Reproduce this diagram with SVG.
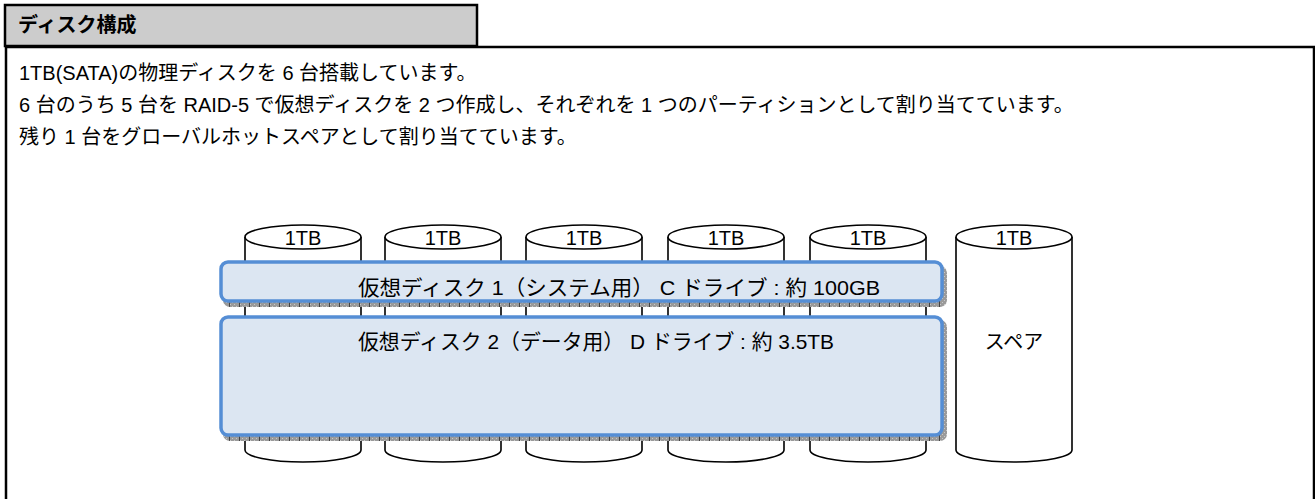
<svg xmlns="http://www.w3.org/2000/svg" width="1315" height="499" viewBox="0 0 1315 499">
<style>
text{font-family:"Liberation Sans","Noto Sans CJK JP",sans-serif;font-size:20px;fill:#000}
.cyl{fill:#fff;stroke:#000;stroke-width:1.6}
.vd{fill:#dce6f2;stroke:#558ed5;stroke-width:3.5}
.sh{fill:url(#hatch)}
.c{text-anchor:middle}
.bx{font-size:21px}
</style>
<defs>
<pattern id="hatch" x="0" y="0" width="10" height="4" patternUnits="userSpaceOnUse">
<rect width="10" height="4" fill="#9a9a9a"/>
<rect x="0" y="0" width="1" height="1" fill="#c8c8c8"/>
<rect x="2" y="2" width="1" height="1" fill="#c8c8c8"/>
<rect x="4" y="0" width="1" height="1" fill="#c8c8c8"/>
<rect x="6" y="2" width="1" height="1" fill="#c8c8c8"/>
<rect x="9" y="0" width="1" height="4" fill="#444"/>
</pattern>
<symbol id="disk" overflow="visible">
<path class="cyl" d="M-58,0 V213 A58,12 0 0 0 58,213 V0"/>
<ellipse class="cyl" cx="0" cy="0" rx="58" ry="12"/>
</symbol>
</defs>
<g id="frame">
<path d="M6,47 H1314 V499 M6,47 V499" fill="none" stroke="#000" stroke-width="2.5"/>
</g>
<g id="header">
<rect x="5" y="5" width="472" height="41" fill="#cccccc" stroke="#000" stroke-width="2.5"/>
<text x="18" y="32" font-weight="bold" font-size="19">ディスク構成</text>
</g>
<g id="description">
<text x="19" y="80">1TB(SATA)の物理ディスクを 6 台搭載しています。</text>
<text x="19" y="112">6 台のうち 5 台を RAID-5 で仮想ディスクを 2 つ作成し、それぞれを 1 つのパーティションとして割り当てています。</text>
<text x="19" y="144">残り 1 台をグローバルホットスペアとして割り当てています。</text>
</g>
<g id="disk1"><use href="#disk" x="303" y="237"/><text class="c" x="303" y="245">1TB</text></g>
<g id="disk2"><use href="#disk" x="443" y="237"/><text class="c" x="443" y="245">1TB</text></g>
<g id="disk3"><use href="#disk" x="584" y="237"/><text class="c" x="584" y="245">1TB</text></g>
<g id="disk4"><use href="#disk" x="726" y="237"/><text class="c" x="726" y="245">1TB</text></g>
<g id="disk5"><use href="#disk" x="868" y="237"/><text class="c" x="868" y="245">1TB</text></g>
<g id="spare"><use href="#disk" x="1014" y="237"/><text class="c" x="1014" y="245">1TB</text><text class="c" x="1014" y="349">スペア</text></g>
<g id="vdisk1">
<rect class="sh" x="223" y="266" width="724" height="41" rx="7"/>
<rect class="vd" x="221" y="262" width="721" height="39" rx="7"/>
<text class="bx" x="358" y="295" textLength="522" lengthAdjust="spacingAndGlyphs">仮想ディスク 1（システム用） C ドライブ : 約 100GB</text>
</g>
<g id="vdisk2">
<rect class="sh" x="223" y="320" width="724" height="121" rx="7"/>
<rect class="vd" x="221" y="317" width="721" height="118" rx="7"/>
<text class="bx" x="358" y="349" textLength="476" lengthAdjust="spacingAndGlyphs">仮想ディスク 2（データ用） D ドライブ : 約 3.5TB</text>
</g>
<g id="connectors"/>
</svg>
